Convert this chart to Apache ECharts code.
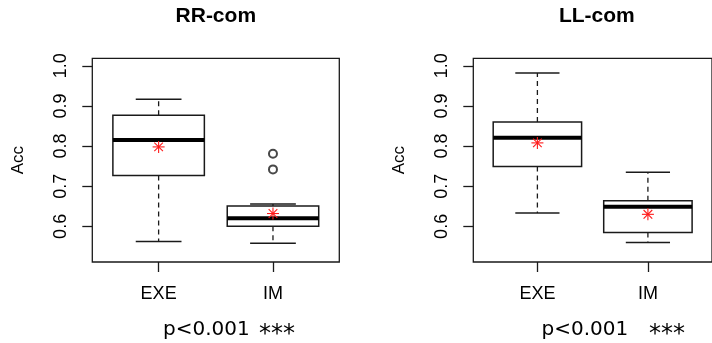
<!DOCTYPE html>
<html>
<head>
<meta charset="utf-8">
<script src="https://cdn.jsdelivr.net/npm/echarts@6/dist/echarts.min.js"></script>
<style>
  html, body { margin: 0; padding: 0; background: #fff; }
  #main { width: 712px; height: 343px; }
</style>
</head>
<body>
<div id="main"></div>
<script>
// Groups and their positions on the x scale
const groups = ['EXE', 'IM'];
const groupPos = [1, 2];
const yTicks = [0.6, 0.7, 0.8, 0.9, 1.0];

// Five-number summaries: [lower whisker, Q1, median, Q3, upper whisker]
const rrStats = [[0.5625, 0.727, 0.815, 0.877, 0.917], [0.558, 0.600, 0.620, 0.651, 0.656]];
const rrMeans = [0.798, 0.632];
const rrOutliersIM = [0.742, 0.781];

const llStats = [[0.633, 0.749, 0.821, 0.860, 0.982], [0.560, 0.585, 0.649, 0.664, 0.735]];
const llMeans = [0.808, 0.630];

const panelTitles = ['RR-com', 'LL-com'];
const pTexts = ['p<0.001', 'p<0.001'];
const sigMarks = ['***', '***'];

const INK = '#1a1a1a';
const SANS = '"Liberation Sans", Arial, sans-serif';

// Box, dashed whiskers, caps and thick median line
function renderBox(params, api) {
  const x = api.value(0);
  const lo = api.coord([x, api.value(1)]);
  const q1 = api.coord([x, api.value(2)]);
  const med = api.coord([x, api.value(3)]);
  const q3 = api.coord([x, api.value(4)]);
  const hi = api.coord([x, api.value(5)]);
  const bw = api.size([0.8, 0])[0];
  const half = bw / 2, cap = bw / 4;
  const cx = lo[0];
  const dash = { stroke: INK, lineWidth: 1.3, lineDash: [5, 4] };
  const solid = { stroke: INK, lineWidth: 1.5 };
  return {
    type: 'group',
    children: [
      { type: 'line', shape: { x1: cx, y1: q3[1], x2: cx, y2: hi[1] }, style: dash },
      { type: 'line', shape: { x1: cx, y1: q1[1], x2: cx, y2: lo[1] }, style: dash },
      { type: 'line', shape: { x1: cx - cap, y1: hi[1], x2: cx + cap, y2: hi[1] }, style: solid },
      { type: 'line', shape: { x1: cx - cap, y1: lo[1], x2: cx + cap, y2: lo[1] }, style: solid },
      { type: 'rect', shape: { x: cx - half, y: q3[1], width: bw, height: q1[1] - q3[1] },
        style: { fill: '#fff', stroke: INK, lineWidth: 1.5 } },
      { type: 'line', shape: { x1: cx - half, y1: med[1], x2: cx + half, y2: med[1] },
        style: { stroke: '#000', lineWidth: 4 } }
    ]
  };
}

// Red asterisk (plus and cross) marking the group mean
function renderMean(params, api) {
  const p = api.coord([api.value(0), api.value(1)]);
  const r = 6, d = r * 0.72;
  const st = { stroke: '#ff1a1a', lineWidth: 1.1 };
  return {
    type: 'group',
    children: [
      { type: 'line', shape: { x1: p[0], y1: p[1] - r, x2: p[0], y2: p[1] + r }, style: st },
      { type: 'line', shape: { x1: p[0] - r, y1: p[1], x2: p[0] + r, y2: p[1] }, style: st },
      { type: 'line', shape: { x1: p[0] - d, y1: p[1] - d, x2: p[0] + d, y2: p[1] + d }, style: st },
      { type: 'line', shape: { x1: p[0] - d, y1: p[1] + d, x2: p[0] + d, y2: p[1] - d }, style: st }
    ]
  };
}

const grids = [
  { left: 92.3, top: 58.3, width: 247, height: 203.7 },
  { left: 473.3, top: 58.3, width: 247, height: 203.7 }
];

function xAxisFor(gi) {
  return {
    type: 'value', gridIndex: gi, min: 0.42, max: 2.58,
    splitLine: { show: false },
    axisLine: { show: false },
    axisTick: { show: true, customValues: groupPos, length: 10, lineStyle: { color: INK, width: 1.3 } },
    axisLabel: {
      customValues: groupPos,
      formatter: v => groups[groupPos.indexOf(v)],
      fontSize: 18, color: '#000', fontFamily: SANS, margin: 23
    }
  };
}

function yAxisFor(gi) {
  return {
    type: 'value', gridIndex: gi, min: 0.5112, max: 1.0188,
    name: 'Acc', nameLocation: 'middle', nameGap: 65,
    nameTextStyle: { fontSize: 17, color: '#000', fontFamily: SANS },
    splitLine: { show: false },
    axisLine: { show: false },
    axisTick: { show: true, customValues: yTicks, length: 10, lineStyle: { color: INK, width: 1.3 } },
    axisLabel: {
      customValues: yTicks,
      formatter: v => v.toFixed(1),
      rotate: 90, fontSize: 18, color: '#000', fontFamily: SANS, margin: 22
    }
  };
}

function boxData(stats) {
  return stats.map((s, i) => [groupPos[i]].concat(s));
}
function meanData(means) {
  return means.map((m, i) => [groupPos[i], m]);
}

const series = [
  { type: 'custom', xAxisIndex: 0, yAxisIndex: 0, renderItem: renderBox, data: boxData(rrStats), z: 2 },
  { type: 'scatter', xAxisIndex: 0, yAxisIndex: 0, symbol: 'emptyCircle', symbolSize: 8,
    itemStyle: { color: INK, borderWidth: 1 }, data: rrOutliersIM.map(v => [groupPos[1], v]), z: 3 },
  { type: 'custom', xAxisIndex: 0, yAxisIndex: 0, renderItem: renderMean, data: meanData(rrMeans), z: 4 },
  { type: 'custom', xAxisIndex: 1, yAxisIndex: 1, renderItem: renderBox, data: boxData(llStats), z: 2 },
  { type: 'custom', xAxisIndex: 1, yAxisIndex: 1, renderItem: renderMean, data: meanData(llMeans), z: 4 }
];

// Panel titles and significance notes under each panel
const graphics = [];
grids.forEach((g, i) => {
  graphics.push({
    type: 'text', x: g.left + g.width / 2, y: 16,
    style: { text: panelTitles[i], font: 'bold 21px ' + SANS, fill: '#000',
             textAlign: 'center', textVerticalAlign: 'middle' }
  });
});
graphics.push(
  { type: 'text', x: 163, y: 330, style: { text: pTexts[0], font: '20px "DejaVu Sans"', fill: '#000', textVerticalAlign: 'middle' } },
  { type: 'text', x: 259, y: 335, style: { text: sigMarks[0], font: '24px "DejaVu Sans"', fill: '#000', textVerticalAlign: 'middle' } },
  { type: 'text', x: 541.5, y: 330, style: { text: pTexts[1], font: '20px "DejaVu Sans"', fill: '#000', textVerticalAlign: 'middle' } },
  { type: 'text', x: 649, y: 335, style: { text: sigMarks[1], font: '24px "DejaVu Sans"', fill: '#000', textVerticalAlign: 'middle' } }
);

const chart = echarts.init(document.getElementById('main'), null, { renderer: 'canvas' });
chart.setOption({
  animation: false,
  backgroundColor: '#fff',
  grid: grids.map(g => Object.assign({ show: true, borderColor: INK, borderWidth: 1.3, backgroundColor: 'transparent' }, g)),
  xAxis: [xAxisFor(0), xAxisFor(1)],
  yAxis: [yAxisFor(0), yAxisFor(1)],
  series: series,
  graphic: graphics
});
</script>
</body>
</html>
